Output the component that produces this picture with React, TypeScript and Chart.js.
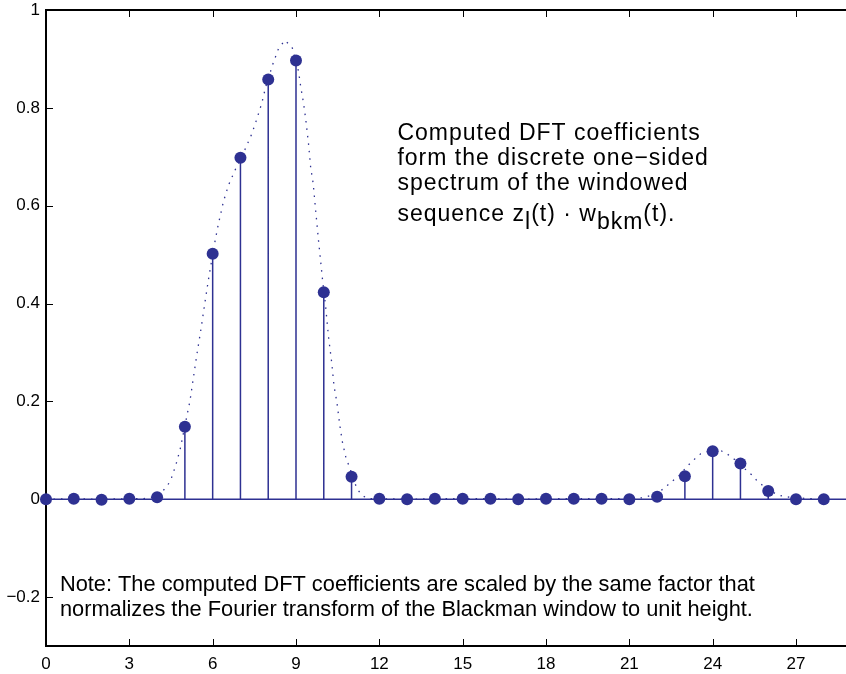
import React, { useEffect, useRef } from "react";
import { Chart, registerables } from "chart.js";

Chart.register(...registerables);

// ---- data ----
const stemX = [0, 1, 2, 3, 4, 5, 6, 7, 8, 9, 10, 11, 12, 13, 14, 15, 16, 17, 18, 19, 20, 21, 22, 23, 24, 25, 26, 27, 28];
const stemY = [0.0, 0.001, -0.001, 0.001, 0.004, 0.148, 0.502, 0.698, 0.858, 0.897, 0.423, 0.046, 0.001, 0.0, 0.001, 0.001, 0.001, 0.0, 0.001, 0.001, 0.001, 0.0, 0.005, 0.047, 0.098, 0.073, 0.017, 0.0, 0.0];

const curveX = [0, 1, 2, 3, 3.5, 4, 4.33, 4.49, 4.68, 4.83, 5.06, 5.18, 5.31, 5.44, 5.58, 5.71, 5.84, 5.94, 6.09, 6.2, 6.39, 6.57, 6.8, 7.18, 7.41, 7.6, 7.77, 7.91, 8.17, 8.37, 8.6, 8.86, 9.09, 9.17, 9.27, 9.35, 9.45, 9.53, 9.62, 9.7, 9.81, 9.87, 9.96, 10.06, 10.17, 10.28, 10.37, 10.47, 10.58, 10.67, 10.8, 10.91, 11.19, 11.37, 11.6, 12, 13, 14, 15, 16, 17, 18, 19, 20, 21, 21.5, 22, 22.29, 22.5, 22.75, 23.13, 23.35, 23.57, 24.0, 24.24, 24.51, 24.75, 25.18, 25.4, 25.61, 25.85, 26.3, 26.6, 27.5, 28];
const curveY = [0.0, 0.001, 0.0, 0.001, 0.001, 0.006, 0.024, 0.039, 0.071, 0.102, 0.167, 0.2, 0.25, 0.299, 0.348, 0.398, 0.446, 0.48, 0.529, 0.561, 0.609, 0.642, 0.672, 0.717, 0.747, 0.779, 0.81, 0.843, 0.89, 0.921, 0.938, 0.924, 0.875, 0.843, 0.81, 0.777, 0.727, 0.677, 0.645, 0.595, 0.529, 0.496, 0.446, 0.398, 0.332, 0.282, 0.231, 0.199, 0.15, 0.117, 0.084, 0.068, 0.022, 0.008, 0.001, 0.001, 0.0, 0.001, 0.001, 0.001, 0.0, 0.001, 0.001, 0.001, 0.001, 0.003, 0.012, 0.024, 0.035, 0.046, 0.07, 0.082, 0.093, 0.1, 0.101, 0.093, 0.083, 0.061, 0.05, 0.037, 0.026, 0.01, 0.005, 0.001, 0.001];

const xTickValues = [0, 3, 6, 9, 12, 15, 18, 21, 24, 27];
const yTickValues = [-0.2, 0, 0.2, 0.4, 0.6, 0.8, 1];
const yTickLabels = ["\u22120.2", "0", "0.2", "0.4", "0.6", "0.8", "1"];
const xRange = [0, 28.8];
const yRange = [-0.3, 1];

const annotationLines = [
  [{ t: "Computed DFT coefficients", sub: false }],
  [{ t: "form the discrete one\u2212sided", sub: false }],
  [{ t: "spectrum of the windowed", sub: false }],
  [
    { t: "sequence z", sub: false },
    { t: "l", sub: true },
    { t: "(t) \u00b7 w", sub: false },
    { t: "bkm", sub: true },
    { t: "(t).", sub: false },
  ],
];
const annotationAnchor = { x: 12.65, y: 0.735 };
const noteLines = [
  "Note: The computed DFT coefficients are scaled by the same factor that",
  "normalizes the Fourier transform of the Blackman window to unit height.",
];
const noteAnchor = { x: 0.5, y: -0.187 };

const BLUE = "#2e3192";
const FONT = "'Liberation Sans', Arial, Helvetica, sans-serif";

const matlabPlugin = {
  id: "matlabAxes",
  beforeDatasetsDraw(chart: any) {
    const { ctx, chartArea, scales } = chart;
    const { left, right, top, bottom } = chartArea;
    const xs = scales.x;
    const ys = scales.y;
    ctx.save();
    ctx.strokeStyle = "#000";
    ctx.lineWidth = 1;
    ctx.beginPath();
    for (const v of xTickValues) {
      const px = Math.round(xs.getPixelForValue(v)) + 0.5;
      ctx.moveTo(px, bottom);
      ctx.lineTo(px, bottom - 7);
      ctx.moveTo(px, top);
      ctx.lineTo(px, top + 7);
    }
    for (const v of yTickValues) {
      const py = Math.round(ys.getPixelForValue(v)) + 0.5;
      ctx.moveTo(left, py);
      ctx.lineTo(left + 7, py);
    }
    ctx.stroke();
    ctx.lineWidth = 2;
    ctx.beginPath();
    ctx.moveTo(right + 2, top);
    ctx.lineTo(left, top);
    ctx.lineTo(left, bottom);
    ctx.lineTo(right + 2, bottom);
    ctx.stroke();
    ctx.restore();
  },
  afterDraw(chart: any) {
    const { ctx, scales } = chart;
    const xs = scales.x;
    const ys = scales.y;
    ctx.save();
    ctx.fillStyle = "#000";
    ctx.textBaseline = "alphabetic";
    ctx.textAlign = "left";
    ctx.font = `23px ${FONT}`;
    (ctx as any).letterSpacing = "1px";
    const ax = xs.getPixelForValue(annotationAnchor.x);
    const ay = ys.getPixelForValue(annotationAnchor.y);
    const offsets = [0, 25, 50, 81];
    annotationLines.forEach((segs, i) => {
      let cx = ax;
      const by = ay + offsets[i];
      for (const s of segs) {
        ctx.fillText(s.t, cx, by + (s.sub ? 8 : 0));
        cx += ctx.measureText(s.t).width;
      }
    });
    (ctx as any).letterSpacing = "0px";
    ctx.font = `21.8px ${FONT}`;
    const nx = xs.getPixelForValue(noteAnchor.x);
    const ny = ys.getPixelForValue(noteAnchor.y);
    noteLines.forEach((l, i) => ctx.fillText(l, nx, ny + i * 25));
    ctx.restore();
  },
};

export default function App() {
  const ref = useRef<HTMLCanvasElement | null>(null);
  useEffect(() => {
    document.body.style.margin = "0";
    const canvas = ref.current;
    if (!canvas) return;
    const markers = stemX.map((x, i) => ({ x, y: stemY[i] }));
    const stems: any[] = [];
    stemX.forEach((x, i) => {
      stems.push({ x, y: 0 }, { x, y: stemY[i] }, { x, y: NaN });
    });
    const curve = curveX.map((x, i) => ({ x, y: curveY[i] }));
    const baseline = [
      { x: xRange[0], y: 0 },
      { x: xRange[1], y: 0 },
    ];
    const chart = new Chart(canvas, {
      type: "scatter",
      data: {
        datasets: [
          {
            data: markers,
            pointRadius: 6,
            pointBackgroundColor: BLUE,
            pointBorderColor: BLUE,
            pointBorderWidth: 0,
            showLine: false,
            clip: false as any,
          },
          {
            data: curve,
            showLine: true,
            borderColor: BLUE,
            borderWidth: 1.3,
            borderDash: [1.5, 6],
            pointRadius: 0,
            tension: 0,
          },
          {
            data: stems,
            showLine: true,
            borderColor: BLUE,
            borderWidth: 1.5,
            pointRadius: 0,
            spanGaps: false,
          },
          {
            data: baseline,
            showLine: true,
            borderColor: BLUE,
            borderWidth: 1.5,
            pointRadius: 0,
          },
        ],
      },
      options: {
        responsive: false,
        animation: false,
        events: [],
        layout: { autoPadding: false, padding: { top: 10, right: 0, bottom: 0, left: 0 } },
        plugins: { legend: { display: false }, tooltip: { enabled: false } },
        scales: {
          x: {
            type: "linear",
            min: xRange[0],
            max: xRange[1],
            grid: { display: false, drawTicks: false },
            border: { display: false },
            afterBuildTicks: (s: any) => {
              s.ticks = xTickValues.map((v) => ({ value: v }));
            },
            afterFit: (s: any) => {
              s.height = 28;
              s.paddingLeft = 0;
              s.paddingRight = 0;
            },
            ticks: {
              padding: 8,
              color: "#000",
              font: { family: FONT, size: 17 },
              maxRotation: 0,
              autoSkip: false,
              callback: (v: any) => String(v),
            },
          },
          y: {
            type: "linear",
            min: yRange[0],
            max: yRange[1],
            grid: { display: false, drawTicks: false },
            border: { display: false },
            afterBuildTicks: (s: any) => {
              s.ticks = yTickValues.map((v) => ({ value: v }));
            },
            afterFit: (s: any) => {
              s.width = 46;
              s.paddingTop = 0;
              s.paddingBottom = 0;
            },
            ticks: {
              padding: 6,
              color: "#000",
              font: { family: FONT, size: 17 },
              autoSkip: false,
              callback: (v: any) => {
                const idx = yTickValues.findIndex((t) => Math.abs(t - v) < 1e-9);
                return idx >= 0 ? yTickLabels[idx] : "";
              },
            },
          },
        },
      },
      plugins: [matlabPlugin],
    });
    return () => chart.destroy();
  }, []);
  return (
    <canvas
      ref={ref}
      width={846}
      height={674}
      style={{ display: "block", width: 846, height: 674, background: "#fff" }}
    />
  );
}
